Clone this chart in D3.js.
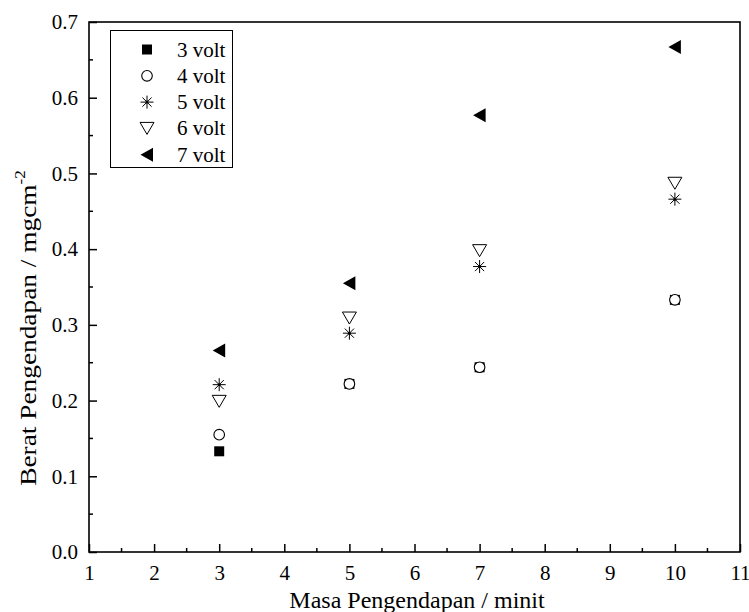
<!doctype html>
<html>
<head>
<script src="https://d3js.org/d3.v7.min.js"></script>
<style>
body { margin: 0; background: #fff; }
text { font-family: "Liberation Serif", "Times New Roman", serif; fill: #000; }
</style>
</head>
<body>
<div id="chart"></div>
<script>
const minutes = [3, 5, 7, 10];
const seriesNames = ["3 volt", "4 volt", "5 volt", "6 volt", "7 volt"];
const v3 = [0.133, 0.222, 0.244, 0.333];
const v4 = [0.155, 0.222, 0.244, 0.333];
const v5 = [0.221, 0.289, 0.377, 0.466];
const v6 = [0.199, 0.309, 0.398, 0.487];
const v7 = [0.266, 0.355, 0.577, 0.667];
const xTicks = [1, 2, 3, 4, 5, 6, 7, 8, 9, 10, 11];
const yTicks = [0.0, 0.1, 0.2, 0.3, 0.4, 0.5, 0.6, 0.7];

const width = 749, height = 612;
const margin = {left: 89, right: 9, top: 22, bottom: 60};

const x = d3.scaleLinear().domain([1, 11]).range([margin.left, width - margin.right]);
const y = d3.scaleLinear().domain([0, 0.7]).range([height - margin.bottom, margin.top]);

const svg = d3.select("#chart").append("svg")
    .attr("width", width)
    .attr("height", height);

function drawMarker(g, i) {
    if (i === 0) {
        g.append("path").attr("d", d3.symbol().type(d3.symbolSquare).size(100)()).attr("fill", "#000");
    } else if (i === 1) {
        g.append("circle").attr("r", 5.3).attr("fill", "#fff").attr("stroke", "#000").attr("stroke-width", 1.1);
    } else if (i === 2) {
        const r = 6.5;
        [0, 45, 90, 135].forEach(function (a) {
            const rad = a * Math.PI / 180;
            g.append("line")
                .attr("x1", -r * Math.cos(rad)).attr("y1", -r * Math.sin(rad))
                .attr("x2", r * Math.cos(rad)).attr("y2", r * Math.sin(rad))
                .attr("stroke", "#000").attr("stroke-width", 1);
        });
        g.append("circle").attr("r", 1.5).attr("fill", "#000");
    } else if (i === 3) {
        g.append("path").attr("d", "M-7,-6L7,-6L0,6Z")
            .attr("fill", "none").attr("stroke", "#000").attr("stroke-width", 1);
    } else {
        g.append("path").attr("d", "M-6.5,0L6,-7L6,7Z").attr("fill", "#000");
    }
}

// frame
svg.append("rect")
    .attr("x", x(1)).attr("y", y(0.7))
    .attr("width", x(11) - x(1)).attr("height", y(0) - y(0.7))
    .attr("fill", "none").attr("stroke", "#000").attr("stroke-width", 1.6);

// x axis ticks (inward)
const xAxis = d3.axisBottom(x).tickValues(xTicks).tickSizeInner(-8).tickSizeOuter(0).tickPadding(13)
    .tickFormat(d3.format("d"));
const gx = svg.append("g").attr("transform", "translate(0," + y(0) + ")").call(xAxis);
gx.select(".domain").remove();
gx.selectAll("line").attr("stroke-width", 1.5);
gx.selectAll("text").attr("font-size", 21).attr("font-family", "Liberation Serif");

const xMinor = d3.range(1.5, 11, 1);
svg.append("g").selectAll("line").data(xMinor).enter().append("line")
    .attr("x1", x).attr("x2", x)
    .attr("y1", y(0)).attr("y2", y(0) - 4)
    .attr("stroke", "#000").attr("stroke-width", 1.5);

const yAxis = d3.axisLeft(y).tickValues(yTicks).tickSizeInner(-8).tickSizeOuter(0).tickPadding(11)
    .tickFormat(d3.format(".1f"));
const gy = svg.append("g").attr("transform", "translate(" + x(1) + ",0)").call(yAxis);
gy.select(".domain").remove();
gy.selectAll("line").attr("stroke-width", 1.5);
gy.selectAll("text").attr("font-size", 21).attr("font-family", "Liberation Serif");

const yMinor = d3.range(0.05, 0.7, 0.1);
svg.append("g").selectAll("line").data(yMinor).enter().append("line")
    .attr("x1", x(1)).attr("x2", x(1) + 4)
    .attr("y1", y).attr("y2", y)
    .attr("stroke", "#000").attr("stroke-width", 1.5);

// axis titles
svg.append("text")
    .attr("x", 417).attr("y", 608)
    .attr("text-anchor", "middle").attr("font-size", 24)
    .text("Masa Pengendapan / minit");

const yt = svg.append("text")
    .attr("transform", "translate(36,328) rotate(-90) scale(1.14,1)")
    .attr("text-anchor", "middle").attr("font-size", 24);
yt.append("tspan").text("Berat Pengendapan / mgcm");
yt.append("tspan").attr("dy", -11).attr("font-size", 15).text("-2");

// data points
const allSeries = [v3, v4, v5, v6, v7];
allSeries.forEach(function (vals, i) {
    svg.append("g").selectAll("g").data(vals).enter().append("g")
        .attr("transform", function (d, k) { return "translate(" + x(minutes[k]) + "," + y(d) + ")"; })
        .each(function () { drawMarker(d3.select(this), i); });
});

// legend
const legend = svg.append("g");
legend.append("rect")
    .attr("x", 110.5).attr("y", 30.5).attr("width", 122).attr("height", 137)
    .attr("fill", "#fff").attr("stroke", "#000").attr("stroke-width", 1);
seriesNames.forEach(function (name, i) {
    const ly = 49.5 + i * 26.3;
    const g = legend.append("g").attr("transform", "translate(147," + ly + ")");
    drawMarker(g, i);
    legend.append("text").attr("x", 177).attr("y", ly + 7).attr("font-size", 21).text(name);
});
</script>
</body>
</html>
